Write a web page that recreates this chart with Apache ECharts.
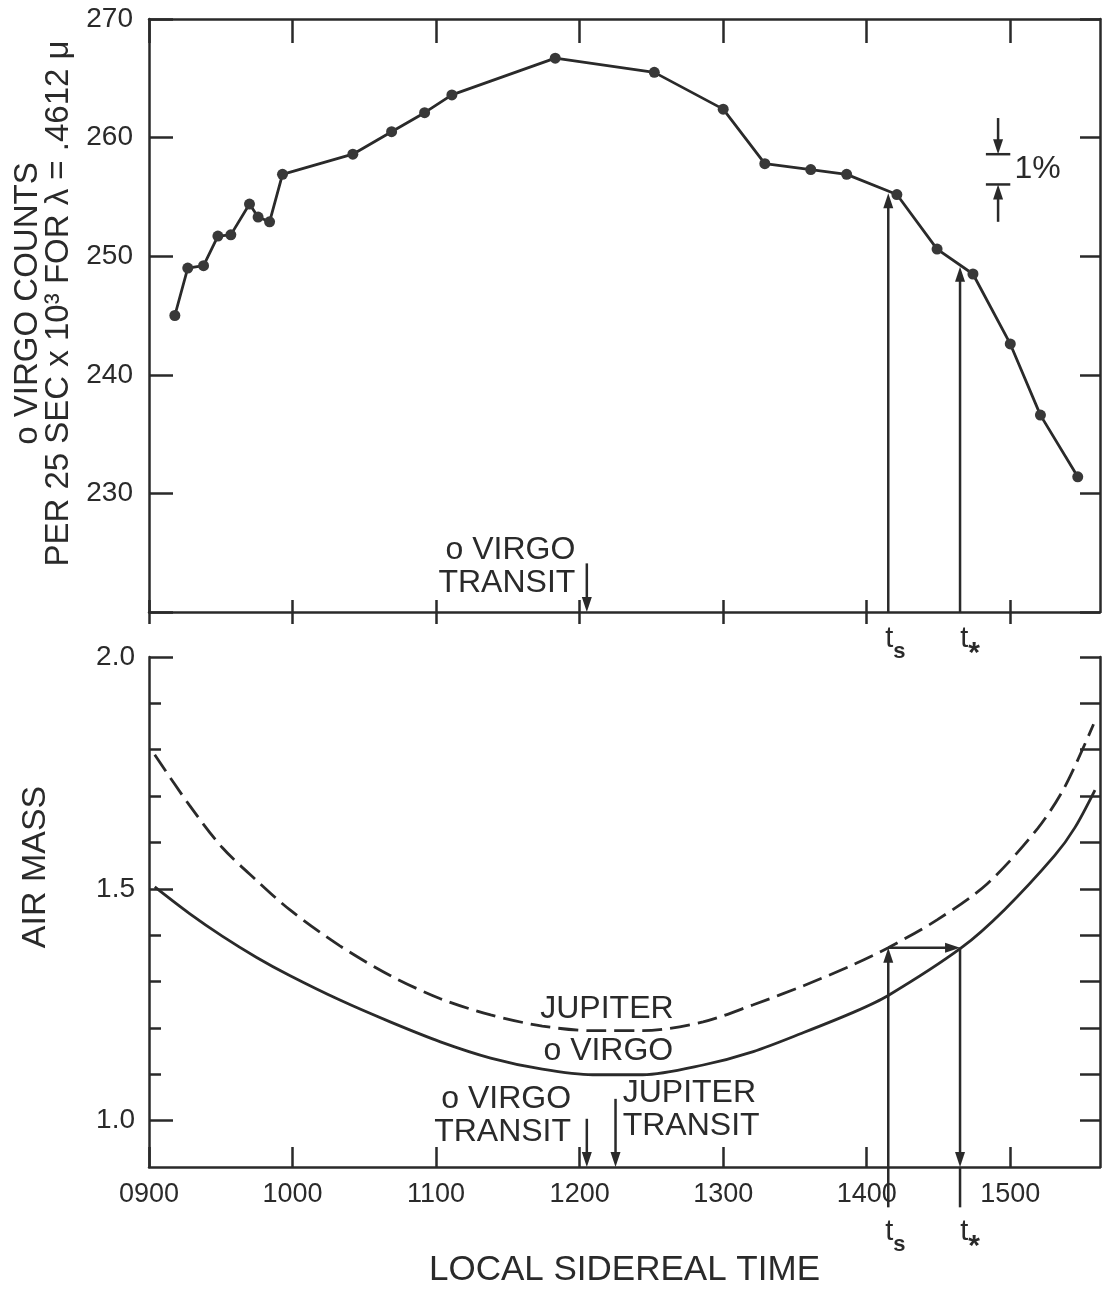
<!DOCTYPE html>
<html>
<head>
<meta charset="utf-8">
<title>Virgo counts and air mass vs local sidereal time</title>
<script src="https://cdn.jsdelivr.net/npm/echarts@6/dist/echarts.min.js"></script>
<style>
  html, body { margin: 0; padding: 0; background: #fff; }
  #chart { width: 1106px; height: 1289px; }
</style>
</head>
<body>
<div id="chart"></div>
<script>
// local sidereal time is kept in decimal hours (9 = 0900)
const hourTicks = [9, 10, 11, 12, 13, 14, 15]
const airMajorTicks = [1.0, 1.5, 2.0]
const airMinorTicks = [1.0, 1.1, 1.2, 1.3, 1.4, 1.5, 1.6, 1.7, 1.8, 1.9, 2.0]

// top panel: omicron Virgo counts per 25 sec x 10^3
const countTime = [9.18, 9.27, 9.38, 9.48, 9.57, 9.70, 9.76, 9.84, 9.93, 10.42, 10.69, 10.92, 11.11,
  11.83, 12.52, 13.00, 13.29, 13.61, 13.86, 14.21, 14.49, 14.74, 15.00, 15.21, 15.47]
const counts = [245.0, 249.0, 249.2, 251.7, 251.8, 254.4, 253.3, 252.9, 256.9, 258.6, 260.5, 262.1, 263.6,
  266.7, 265.5, 262.4, 257.8, 257.3, 256.9, 255.2, 250.6, 248.5, 242.6, 236.6, 231.4]

// bottom panel: air mass
const virgoTime = [9.04, 9.28, 9.51, 9.75, 9.98, 10.33, 10.68, 11.03, 11.38, 11.74, 12.09, 12.44,
  12.86, 13.21, 13.56, 13.91, 14.15, 14.66, 14.96, 15.31, 15.45, 15.59]
const virgoAir = [1.504, 1.447, 1.398, 1.352, 1.313, 1.260, 1.213, 1.170, 1.135, 1.111, 1.099, 1.099,
  1.120, 1.149, 1.190, 1.234, 1.270, 1.373, 1.455, 1.572, 1.632, 1.713]
const jupiterTime = [9.04, 9.28, 9.51, 9.75, 9.98, 10.33, 10.68, 11.03, 11.38, 11.74, 12.09, 12.44,
  12.86, 13.21, 13.56, 13.91, 14.15, 14.49, 14.84, 15.19, 15.38, 15.58]
const jupiterAir = [1.789, 1.681, 1.589, 1.518, 1.455, 1.377, 1.313, 1.263, 1.228, 1.204, 1.194, 1.194,
  1.213, 1.250, 1.291, 1.337, 1.373, 1.433, 1.511, 1.630, 1.720, 1.855]

const virgoTransit = 12.05
const jupiterTransit = 12.25
const tS = 14.15
const tStar = 14.65
const countAtTs = 255.3
const countAtTstar = 249.1
const airAtTs = 1.373
const onePercent = [256.05, 258.6]

const INK = '#2a2a2a'
const FONT = 'Liberation Sans'

const zip = (a, b) => a.map((v, i) => [v, b[i]])
const hhmm = v => (v < 10 ? '0' : '') + v + '00'

function renderArrow(params, api) {
  const a = api.coord([api.value(0), api.value(1)])
  const b = api.coord([api.value(2), api.value(3)])
  const head = api.value(4)
  const dx = b[0] - a[0]
  const dy = b[1] - a[1]
  const len = Math.sqrt(dx * dx + dy * dy) || 1
  const ux = dx / len
  const uy = dy / len
  const L = 15
  const W = 5
  const end = head ? [b[0] - ux * L * 0.5, b[1] - uy * L * 0.5] : b
  const children = [{
    type: 'line',
    shape: { x1: a[0], y1: a[1], x2: end[0], y2: end[1] },
    style: { stroke: INK, lineWidth: 2.5 }
  }]
  if (head) {
    children.push({
      type: 'polygon',
      shape: {
        points: [
          [b[0], b[1]],
          [b[0] - ux * L - uy * W, b[1] - uy * L + ux * W],
          [b[0] - ux * L + uy * W, b[1] - uy * L - ux * W]
        ]
      },
      style: { fill: INK }
    })
  }
  return { type: 'group', children }
}

const noteRich = {
  t: { fontFamily: FONT, fontSize: 29, fill: INK, lineHeight: 40, verticalAlign: 'top' },
  s: { fontFamily: FONT, fontSize: 22, fontWeight: 'bold', fill: INK, lineHeight: 40, padding: [16, 0, 0, 0] },
  a: { fontFamily: FONT, fontSize: 30, fontWeight: 'bold', fill: INK, lineHeight: 40, padding: [20, 0, 0, 0] }
}

// notes are drawn as text at data positions: [x, y, text, align]
function noteSeries(xi, yi, notes) {
  return {
    type: 'custom',
    xAxisIndex: xi,
    yAxisIndex: yi,
    clip: false,
    silent: true,
    encode: { x: 0, y: 1 },
    data: notes.map(n => [n[0], n[1]]),
    renderItem(params, api) {
      const n = notes[params.dataIndex]
      const p = api.coord([api.value(0), api.value(1)])
      return {
        type: 'text',
        x: p[0],
        y: p[1],
        style: {
          text: n[2],
          fill: INK,
          fontFamily: FONT,
          fontSize: 32,
          lineHeight: 33,
          align: n[3] || 'center',
          verticalAlign: 'middle',
          rich: noteRich
        }
      }
    }
  }
}

const lineAxis = { show: true, lineStyle: { color: INK, width: 2.5 } }

const option = {
  backgroundColor: '#fff',
  animation: false,
  textStyle: { fontFamily: FONT, color: INK },
  grid: [
    { left: 149, right: 6, top: 19, height: 593 },
    { left: 149, right: 6, top: 657, height: 517 }
  ],
  xAxis: [
    {
      gridIndex: 0, type: 'value', position: 'bottom', min: 9, max: 15.625,
      axisLine: lineAxis,
      axisTick: { inside: true, length: 12, customValues: hourTicks, lineStyle: { color: INK, width: 2.5 } },
      axisLabel: { show: false },
      splitLine: { show: false }
    },
    {
      gridIndex: 0, type: 'value', position: 'bottom', offset: 0, min: 9, max: 15.625,
      axisLine: { show: false },
      axisTick: { inside: false, length: 12, customValues: hourTicks, lineStyle: { color: INK, width: 2.5 } },
      axisLabel: { show: false },
      splitLine: { show: false }
    },
    {
      gridIndex: 0, type: 'value', position: 'top', min: 9, max: 15.625,
      axisLine: lineAxis,
      axisTick: { inside: true, length: 24, customValues: hourTicks, lineStyle: { color: INK, width: 2.5 } },
      axisLabel: { show: false },
      splitLine: { show: false }
    },
    {
      gridIndex: 1, type: 'value', position: 'bottom', min: 9, max: 15.625,
      axisLine: lineAxis,
      axisTick: { inside: true, length: 20, customValues: hourTicks, lineStyle: { color: INK, width: 2.5 } },
      axisLabel: {
        customValues: hourTicks, formatter: hhmm, margin: 14,
        fontFamily: FONT, fontSize: 27, color: INK
      },
      splitLine: { show: false },
      name: 'LOCAL SIDEREAL TIME',
      nameLocation: 'middle',
      nameGap: 86,
      nameTextStyle: { fontFamily: FONT, fontSize: 35, color: INK }
    }
  ],
  yAxis: [
    {
      gridIndex: 0, type: 'value', position: 'left', min: 220, max: 270, interval: 10,
      axisLine: lineAxis,
      axisTick: { inside: true, length: 24, lineStyle: { color: INK, width: 2.5 } },
      axisLabel: {
        formatter: v => (v === 220 ? '' : v), margin: 16,
        fontFamily: FONT, fontSize: 28, color: INK
      },
      splitLine: { show: false },
      name: 'ο VIRGO COUNTS\nPER 25 SEC x 10³ FOR λ = .4612 μ',
      nameLocation: 'middle',
      nameRotate: 90,
      nameGap: 64,
      nameTextStyle: { fontFamily: FONT, fontSize: 33, lineHeight: 31, color: INK, padding: [0, 0, 0, 24] }
    },
    {
      gridIndex: 0, type: 'value', position: 'right', min: 220, max: 270, interval: 10,
      axisLine: lineAxis,
      axisTick: { inside: true, length: 20, lineStyle: { color: INK, width: 2.5 } },
      axisLabel: { show: false },
      splitLine: { show: false }
    },
    {
      gridIndex: 1, type: 'value', position: 'left', min: 0.9, max: 2.0,
      axisLine: lineAxis,
      axisTick: { inside: true, length: 24, customValues: airMajorTicks, lineStyle: { color: INK, width: 2.5 } },
      axisLabel: {
        customValues: airMajorTicks, formatter: v => v.toFixed(1), margin: 14,
        fontFamily: FONT, fontSize: 28, color: INK
      },
      splitLine: { show: false },
      name: 'AIR MASS',
      nameLocation: 'middle',
      nameRotate: 90,
      nameGap: 96,
      nameTextStyle: { fontFamily: FONT, fontSize: 34, color: INK, padding: [0, 0, 0, 90] }
    },
    {
      gridIndex: 1, type: 'value', position: 'left', offset: 0, min: 0.9, max: 2.0,
      axisLine: { show: false },
      axisTick: { inside: true, length: 12, customValues: airMinorTicks, lineStyle: { color: INK, width: 2.5 } },
      axisLabel: { show: false },
      splitLine: { show: false }
    },
    {
      gridIndex: 1, type: 'value', position: 'right', min: 0.9, max: 2.0,
      axisLine: lineAxis,
      axisTick: { inside: true, length: 20, customValues: airMinorTicks, lineStyle: { color: INK, width: 2.5 } },
      axisLabel: { show: false },
      splitLine: { show: false }
    }
  ],
  series: [
    {
      name: 'ο Virgo counts',
      type: 'line',
      xAxisIndex: 0,
      yAxisIndex: 0,
      data: zip(countTime, counts),
      symbol: 'circle',
      symbolSize: 11,
      itemStyle: { color: '#383838' },
      lineStyle: { color: INK, width: 2.8 }
    },
    {
      name: 'Jupiter',
      type: 'line',
      xAxisIndex: 3,
      yAxisIndex: 2,
      data: zip(jupiterTime, jupiterAir),
      smooth: 0.3,
      showSymbol: false,
      lineStyle: { color: INK, width: 2.8, type: [20, 8] }
    },
    {
      name: 'ο Virgo',
      type: 'line',
      xAxisIndex: 3,
      yAxisIndex: 2,
      data: zip(virgoTime, virgoAir),
      smooth: 0.3,
      showSymbol: false,
      lineStyle: { color: INK, width: 2.8 }
    },
    {
      type: 'custom',
      xAxisIndex: 0,
      yAxisIndex: 0,
      clip: false,
      silent: true,
      renderItem: renderArrow,
      encode: { x: [0, 2], y: [1, 3] },
      data: [
        [tS, 220, tS, countAtTs, 1],
        [tStar, 220, tStar, countAtTstar, 1],
        [virgoTransit, 224.1, virgoTransit, 220, 1],
        [14.83, onePercent[1], 15.0, onePercent[1], 0],
        [14.83, onePercent[0], 15.0, onePercent[0], 0],
        [14.915, 261.65, 14.915, onePercent[1], 1],
        [14.915, 252.9, 14.915, onePercent[0], 1]
      ]
    },
    {
      type: 'custom',
      xAxisIndex: 3,
      yAxisIndex: 2,
      clip: false,
      silent: true,
      renderItem: renderArrow,
      encode: { x: [0, 2], y: [1, 3] },
      data: [
        [tS, 0.813, tS, airAtTs, 1],
        [tS, airAtTs, tStar, airAtTs, 1],
        [tStar, airAtTs, tStar, 0.9, 1],
        [tStar, 0.9, tStar, 0.813, 0],
        [virgoTransit, 1.004, virgoTransit, 0.9, 1],
        [jupiterTransit, 1.047, jupiterTransit, 0.9, 1]
      ]
    },
    noteSeries(0, 0, [
      [11.97, 223.8, 'ο VIRGO\nTRANSIT', 'right'],
      [tS + 0.05, 217.3, '{t|t}{s|s}'],
      [tStar + 0.07, 217.3, '{t|t}{a|*}'],
      [15.19, 257.3, '1%']
    ]),
    noteSeries(3, 2, [
      [12.19, 1.24, 'JUPITER'],
      [12.2, 1.149, 'ο VIRGO'],
      [11.94, 1.011, 'ο VIRGO\nTRANSIT', 'right'],
      [12.3, 1.023, 'JUPITER\nTRANSIT', 'left'],
      [tS + 0.05, 0.749, '{t|t}{s|s}'],
      [tStar + 0.07, 0.749, '{t|t}{a|*}']
    ])
  ]
}

const chart = echarts.init(document.getElementById('chart'), null, { renderer: 'canvas' })
chart.setOption(option)
</script>
</body>
</html>
